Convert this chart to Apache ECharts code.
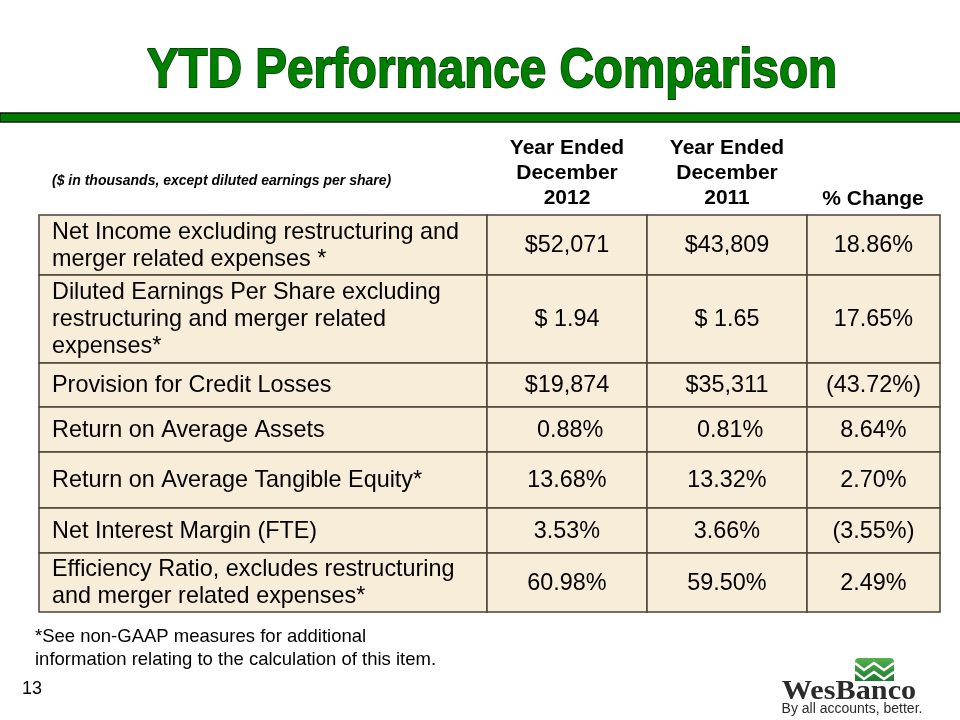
<!DOCTYPE html>
<html>
<head>
<meta charset="utf-8">
<script src="https://cdn.jsdelivr.net/npm/echarts@6/dist/echarts.min.js"></script>
<style>
  html, body { margin: 0; padding: 0; background: #fff; }
  #main { width: 960px; height: 720px; }
</style>
</head>
<body>
<div id="main"></div>
<script>
// table content
var metrics = [
  'Net Income excluding restructuring and\nmerger related expenses *',
  'Diluted Earnings Per Share excluding\nrestructuring and merger related\nexpenses*',
  'Provision for Credit Losses',
  'Return on Average Assets',
  'Return on Average Tangible Equity*',
  'Net Interest Margin (FTE)',
  'Efficiency Ratio, excludes restructuring\nand merger related expenses*'
];
var ye2012 = ['$52,071', '$ 1.94', '$19,874', ' 0.88%', '13.68%', '3.53%', '60.98%'];
var ye2011 = ['$43,809', '$ 1.65', '$35,311', ' 0.81%', '13.32%', '3.66%', '59.50%'];
var pctChange = ['18.86%', '17.65%', '(43.72%)', '8.64%', '2.70%', '(3.55%)', '2.49%'];
var columnHeaders = ['Year Ended\nDecember\n2012', 'Year Ended\nDecember\n2011', '% Change'];

// layout (px)
var colWidths = [448, 160, 160, 133];
var rowHeights = [60, 88, 44, 45, 56, 45, 59];

var columns = [metrics, ye2012, ye2011, pctChange];
function edges(arr) {
  var out = [0];
  arr.forEach(function (v) { out.push(out[out.length - 1] + v); });
  return out;
}
var colEdge = edges(colWidths);
var rowEdge = edges(rowHeights);
var tableW = colEdge[colEdge.length - 1];
var tableH = rowEdge[rowEdge.length - 1];

var cells = [];
for (var r = 0; r < metrics.length; r++) {
  for (var c = 0; c < columns.length; c++) cells.push([c, r]);
}

var chart = echarts.init(document.getElementById('main'));
var FONT = "'Liberation Sans', Arial, sans-serif";

var option = {
  backgroundColor: '#ffffff',
  animation: false,
  grid: { left: 39, top: 215, width: tableW, height: tableH },
  xAxis: { type: 'value', min: 0, max: tableW, show: false },
  yAxis: { type: 'value', min: 0, max: tableH, inverse: true, show: false },
  series: [{
    type: 'custom',
    data: cells,
    renderItem: function (params, api) {
      var c = api.value(0), r = api.value(1);
      var p0 = api.coord([colEdge[c], rowEdge[r]]);
      var p1 = api.coord([colEdge[c + 1], rowEdge[r + 1]]);
      var w = p1[0] - p0[0], h = p1[1] - p0[1];
      return {
        type: 'group',
        children: [{
          type: 'rect',
          shape: { x: p0[0], y: p0[1], width: w, height: h },
          style: { fill: '#F8EDD9', stroke: '#4a4236', lineWidth: 1.5 }
        }, {
          type: 'text',
          style: {
            text: columns[c][r],
            x: c === 0 ? p0[0] + 13 : p0[0] + w / 2,
            y: p0[1] + h / 2 + 1,
            align: c === 0 ? 'left' : 'center',
            verticalAlign: 'middle',
            lineHeight: 27,
            fill: '#000',
            font: '23.4px ' + FONT
          }
        }]
      };
    }
  }],
  graphic: [
    // title
    {
      type: 'text', x: 492, y: 72, scaleX: 0.85,
      style: {
        text: 'YTD Performance Comparison',
        align: 'center', verticalAlign: 'middle',
        font: 'bold 56px ' + FONT,
        fill: '#008000', stroke: '#0a3f0a', lineWidth: 1.8,
        shadowColor: 'rgba(10,25,10,0.9)', shadowOffsetX: 3, shadowOffsetY: 3, shadowBlur: 2
      }
    },
    // green rule
    {
      type: 'rect', shape: { x: 0, y: 113, width: 962, height: 9 },
      style: { fill: '#007D00', stroke: '#0b1a0b', lineWidth: 1.5 }
    },
    {
      type: 'text', x: 52, y: 181,
      style: {
        text: '($ in thousands, except diluted earnings per share)',
        verticalAlign: 'middle', fill: '#000',
        font: 'italic bold 14px ' + FONT
      }
    },
    {
      type: 'text', x: 567, y: 173,
      style: { text: columnHeaders[0], align: 'center', verticalAlign: 'middle', lineHeight: 25, fill: '#000', font: 'bold 21px ' + FONT }
    },
    {
      type: 'text', x: 727, y: 173,
      style: { text: columnHeaders[1], align: 'center', verticalAlign: 'middle', lineHeight: 25, fill: '#000', font: 'bold 21px ' + FONT }
    },
    {
      type: 'text', x: 873, y: 199,
      style: { text: columnHeaders[2], align: 'center', verticalAlign: 'middle', fill: '#000', font: 'bold 21px ' + FONT }
    },
    // footnote and page number
    {
      type: 'text', x: 35, y: 648,
      style: {
        text: '*See non-GAAP measures for additional\ninformation relating to the calculation of this item.',
        verticalAlign: 'middle', lineHeight: 23, fill: '#000', font: '18.5px ' + FONT
      }
    },
    {
      type: 'text', x: 22, y: 689,
      style: { text: '13', verticalAlign: 'middle', fill: '#000', font: '18px ' + FONT }
    },
    // logo
    {
      type: 'rect', shape: { x: 855, y: 658, width: 39, height: 23, r: [4, 4, 0, 0] },
      style: {
        fill: new echarts.graphic.LinearGradient(0, 0, 0, 1, [
          { offset: 0, color: '#55b04f' }, { offset: 1, color: '#1c7a30' }
        ])
      }
    },
    {
      type: 'polyline',
      shape: { points: [[855, 663], [864, 670], [874, 663], [884, 670], [894, 663]] },
      style: { stroke: '#ffffff', lineWidth: 2.5, fill: null }
    },
    {
      type: 'polyline',
      shape: { points: [[855, 672], [864, 679], [874, 672], [884, 679], [894, 672]] },
      style: { stroke: '#ffffff', lineWidth: 2.5, fill: null }
    },
    {
      type: 'text', x: 849, y: 692, scaleX: 1.08,
      style: {
        text: 'WesBanco', align: 'center', verticalAlign: 'middle', fill: '#2b2b2b',
        font: "bold 28px 'Liberation Serif', 'DejaVu Serif', serif"
      }
    },
    {
      type: 'text', x: 852, y: 709,
      style: {
        text: 'By all accounts, better.', align: 'center', verticalAlign: 'middle', fill: '#2b2b2b',
        font: '14px ' + FONT
      }
    }
  ]
};
chart.setOption(option);
</script>
</body>
</html>
